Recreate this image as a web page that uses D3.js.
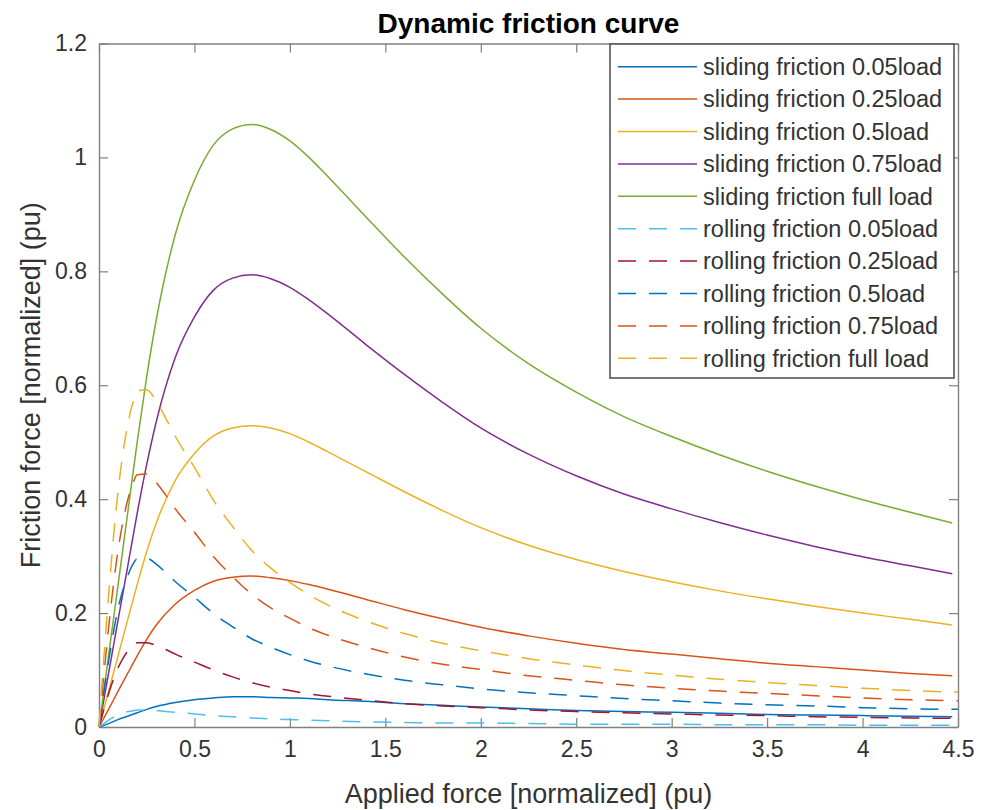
<!DOCTYPE html>
<html>
<meta charset="utf-8">
<script src="https://cdn.jsdelivr.net/npm/d3@7"></script>
<style>
body{
	margin:0;
	background:#fff;
}
#chart{
	width:981px;
	height:810px;
}
text{
	font-family:"Liberation Sans", Arial, Helvetica, sans-serif;
}
</style>
<body>
	<div id="chart">
		<svg id="plot" width="981" height="810"></svg>
	</div>
</body>
<script>
// x samples
const xSliding = [0, 0.05, 0.1, 0.15, 0.2, 0.25, 0.3, 0.4, 0.5, 0.6, 0.7, 0.8, 0.9, 1.0, 1.1, 1.2, 1.4, 1.6, 1.8, 2.0, 2.25, 2.5, 2.75, 3.0, 3.25, 3.5, 3.75, 4.0, 4.25, 4.47];
const xRolling = [0, 0.025, 0.05, 0.075, 0.1, 0.125, 0.15, 0.175, 0.2, 0.25, 0.3, 0.35, 0.4, 0.5, 0.6, 0.7, 0.8, 0.9, 1.0, 1.1, 1.2, 1.4, 1.6, 1.8, 2.0, 2.25, 2.5, 2.75, 3.0, 3.25, 3.5, 3.75, 4.0, 4.25, 4.5];

// sliding friction (solid)
const sliding005 = [0, 0.006, 0.013, 0.019, 0.025, 0.031, 0.036, 0.043, 0.048, 0.051, 0.053, 0.053, 0.052, 0.051, 0.05, 0.048, 0.045, 0.041, 0.038, 0.035, 0.032, 0.029, 0.027, 0.026, 0.024, 0.022, 0.021, 0.02, 0.019, 0.018];
const sliding025 = [0, 0.031, 0.063, 0.094, 0.125, 0.154, 0.179, 0.216, 0.24, 0.256, 0.263, 0.265, 0.262, 0.257, 0.25, 0.242, 0.224, 0.206, 0.19, 0.175, 0.16, 0.147, 0.136, 0.128, 0.12, 0.112, 0.106, 0.1, 0.094, 0.09];
const sliding05 = [0, 0.063, 0.125, 0.188, 0.25, 0.308, 0.358, 0.433, 0.48, 0.511, 0.525, 0.529, 0.525, 0.515, 0.5, 0.483, 0.448, 0.413, 0.38, 0.35, 0.319, 0.294, 0.273, 0.255, 0.239, 0.225, 0.212, 0.2, 0.189, 0.179];
const sliding075 = [0, 0.094, 0.188, 0.281, 0.375, 0.461, 0.536, 0.649, 0.72, 0.767, 0.788, 0.794, 0.787, 0.772, 0.75, 0.725, 0.671, 0.619, 0.57, 0.525, 0.479, 0.441, 0.409, 0.383, 0.359, 0.337, 0.317, 0.299, 0.283, 0.269];
const slidingFull = [0, 0.125, 0.25, 0.375, 0.5, 0.615, 0.715, 0.865, 0.96, 1.022, 1.05, 1.058, 1.049, 1.029, 1.0, 0.966, 0.895, 0.825, 0.76, 0.7, 0.638, 0.588, 0.545, 0.51, 0.478, 0.449, 0.423, 0.399, 0.377, 0.358];

// rolling friction (dashed)
const rolling005 = [0, 0.006, 0.012, 0.017, 0.021, 0.024, 0.027, 0.028, 0.03, 0.03, 0.029, 0.027, 0.026, 0.023, 0.02, 0.018, 0.016, 0.014, 0.013, 0.012, 0.011, 0.009, 0.008, 0.007, 0.007, 0.006, 0.005, 0.005, 0.005, 0.004, 0.004, 0.004, 0.003, 0.003, 0.003];
const rolling025 = [0, 0.03, 0.058, 0.083, 0.104, 0.12, 0.133, 0.142, 0.148, 0.148, 0.143, 0.136, 0.128, 0.114, 0.1, 0.088, 0.078, 0.07, 0.064, 0.058, 0.054, 0.047, 0.041, 0.037, 0.034, 0.03, 0.027, 0.025, 0.023, 0.021, 0.02, 0.018, 0.017, 0.016, 0.015];
const rolling05 = [0, 0.06, 0.115, 0.165, 0.208, 0.24, 0.265, 0.284, 0.295, 0.296, 0.286, 0.271, 0.255, 0.228, 0.199, 0.176, 0.155, 0.14, 0.127, 0.116, 0.107, 0.093, 0.082, 0.074, 0.067, 0.06, 0.055, 0.05, 0.046, 0.042, 0.039, 0.037, 0.034, 0.032, 0.031];
const rolling075 = [0, 0.09, 0.173, 0.248, 0.311, 0.36, 0.398, 0.425, 0.443, 0.444, 0.429, 0.407, 0.383, 0.342, 0.299, 0.264, 0.233, 0.209, 0.191, 0.174, 0.161, 0.14, 0.123, 0.11, 0.101, 0.09, 0.082, 0.074, 0.068, 0.063, 0.059, 0.055, 0.051, 0.048, 0.046];
const rollingFull = [0, 0.12, 0.23, 0.33, 0.415, 0.48, 0.53, 0.567, 0.59, 0.592, 0.572, 0.542, 0.51, 0.456, 0.398, 0.352, 0.31, 0.279, 0.254, 0.232, 0.214, 0.186, 0.164, 0.147, 0.134, 0.12, 0.109, 0.099, 0.091, 0.084, 0.078, 0.073, 0.068, 0.064, 0.061];

const seriesNames = [
	"sliding friction 0.05load",
	"sliding friction 0.25load",
	"sliding friction 0.5load",
	"sliding friction 0.75load",
	"sliding friction full load",
	"rolling friction 0.05load",
	"rolling friction 0.25load",
	"rolling friction 0.5load",
	"rolling friction 0.75load",
	"rolling friction full load"
];
const seriesColors = ["#0072BD", "#D95319", "#EDB120", "#7E2F8E", "#77AC30", "#4DBEEE", "#A2142F", "#0072BD", "#D95319", "#EDB120"];

const xTicks = [0, 0.5, 1, 1.5, 2, 2.5, 3, 3.5, 4, 4.5];
const yTicks = [0, 0.2, 0.4, 0.6, 0.8, 1, 1.2];

const titleText = "Dynamic friction curve";
const xLabel = "Applied force [normalized] (pu)";
const yLabel = "Friction force [normalized] (pu)";

// build series list
const slidingVals = [sliding005, sliding025, sliding05, sliding075, slidingFull];
const rollingVals = [rolling005, rolling025, rolling05, rolling075, rollingFull];
var series = [];
slidingVals.forEach(function(v, i){
	series.push({name: seriesNames[i], color: seriesColors[i], dashed: false, pts: xSliding.map((x, j) => [x, v[j]])});
});
rollingVals.forEach(function(v, i){
	series.push({name: seriesNames[i+5], color: seriesColors[i+5], dashed: true, pts: xRolling.map((x, j) => [x, v[j]])});
});

const svg = d3.select("#plot");
const plotLeft = 99, plotRight = 958, plotTop = 43.5, plotBottom = 727;

const x = d3.scaleLinear().domain([0, 4.5]).range([plotLeft, plotRight]);
const y = d3.scaleLinear().domain([0, 1.2]).range([plotBottom, plotTop]);

const axisColor = "#808080";
const textColor = "#333";
const fmt = d => String(d);

// axes (ticks pointing inward, box on)
function styleAxis(g){
	g.select(".domain").attr("stroke", axisColor).attr("stroke-width", 1.4);
	g.selectAll(".tick line").attr("stroke", axisColor).attr("stroke-width", 1.2);
	g.selectAll(".tick text").attr("fill", textColor).style("font-size", "23px");
}

svg.append("g")
	.attr("transform", "translate(0," + plotBottom + ")")
	.call(d3.axisBottom(x).tickValues(xTicks).tickFormat(fmt).tickSize(-9).tickSizeOuter(0).tickPadding(14))
	.call(styleAxis);

svg.append("g")
	.attr("transform", "translate(0," + plotTop + ")")
	.call(d3.axisTop(x).tickValues(xTicks).tickFormat("").tickSize(-9).tickSizeOuter(0))
	.call(styleAxis);

svg.append("g")
	.attr("transform", "translate(" + plotLeft + ",0)")
	.call(d3.axisLeft(y).tickValues(yTicks).tickFormat(fmt).tickSize(-9).tickSizeOuter(0).tickPadding(12))
	.call(styleAxis);

svg.append("g")
	.attr("transform", "translate(" + plotRight + ",0)")
	.call(d3.axisRight(y).tickValues(yTicks).tickFormat("").tickSize(-9).tickSizeOuter(0))
	.call(styleAxis);

svg.selectAll(".tick text").style("font-family", "'Liberation Sans', Arial, sans-serif");

// curves
const line = d3.line()
	.x(d => x(d[0]))
	.y(d => y(d[1]))
	.curve(d3.curveMonotoneX);

svg.append("g")
	.selectAll("path")
	.data(series)
	.join("path")
	.attr("fill", "none")
	.attr("stroke", d => d.color)
	.attr("stroke-width", 1.5)
	.attr("stroke-dasharray", d => d.dashed ? "18,13" : null)
	.attr("d", d => line(d.pts));

// title and labels
svg.append("text")
	.attr("x", (plotLeft + plotRight) / 2)
	.attr("y", 33)
	.attr("text-anchor", "middle")
	.style("font-size", "28px")
	.style("font-weight", "bold")
	.attr("fill", "#000")
	.text(titleText);

svg.append("text")
	.attr("x", (plotLeft + plotRight) / 2)
	.attr("y", 803)
	.attr("text-anchor", "middle")
	.style("font-size", "27px")
	.attr("fill", textColor)
	.text(xLabel);

svg.append("text")
	.attr("transform", "translate(40," + ((plotTop + plotBottom) / 2) + ") rotate(-90)")
	.attr("text-anchor", "middle")
	.style("font-size", "27px")
	.attr("fill", textColor)
	.text(yLabel);

// legend
const lg = svg.append("g").attr("transform", "translate(610,44)");
lg.append("rect")
	.attr("width", 344)
	.attr("height", 334)
	.attr("fill", "#fff")
	.attr("stroke", "#555")
	.attr("stroke-width", 1.6);

const rows = lg.selectAll("g.row")
	.data(series)
	.join("g")
	.attr("class", "row")
	.attr("transform", (d, i) => "translate(0," + (22.7 + i * 32.4) + ")");

rows.append("line")
	.attr("x1", 8).attr("x2", 87)
	.attr("stroke", d => d.color)
	.attr("stroke-width", 1.5)
	.attr("stroke-dasharray", d => d.dashed ? "18,13" : null);

rows.append("text")
	.attr("x", 93)
	.attr("dy", "0.35em")
	.style("font-size", "23.5px")
	.attr("fill", textColor)
	.text(d => d.name);
</script>
</html>
